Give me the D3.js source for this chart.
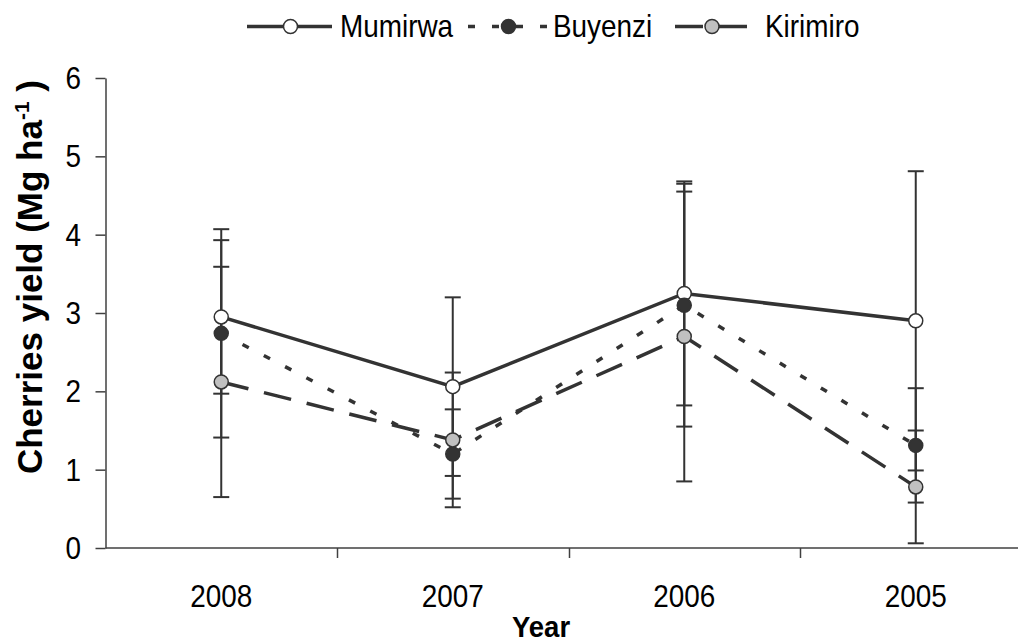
<!DOCTYPE html>
<html>
<head>
<meta charset="utf-8">
<script src="https://cdn.jsdelivr.net/npm/d3@7"></script>
<style>
  body { margin: 0; background: #fff; }
  text { font-family: "Liberation Sans", Arial, sans-serif; fill: #000; }
</style>
</head>
<body>
<script>
// data (mean and error-bar half width, Mg ha-1)
const years = ['2008', '2007', '2006', '2005'];
const seriesNames = ['Mumirwa', 'Buyenzi', 'Kirimiro'];
const mumirwa = [2.95, 2.06, 3.25, 2.90];
const mumirwaErr = [0.98, 1.14, 1.43, 1.91];
const buyenzi = [2.74, 1.20, 3.10, 1.31];
const buyenziErr = [1.33, 0.57, 1.55, 0.73];
const kirimiro = [2.12, 1.38, 2.70, 0.78];
const kirimiroErr = [1.47, 0.86, 1.85, 0.72];
const yTicks = [0, 1, 2, 3, 4, 5, 6];

const W = 1018, H = 644;
const ink = '#333';

const svg = d3.select(document.body).append('svg')
  .attr('width', W)
  .attr('height', H);

const x = d3.scaleBand()
  .domain(years)
  .range([105.5, 1031.5]);
const cx = d => x(d) + x.bandwidth() / 2;

const y = d3.scaleLinear()
  .domain([0, 6])
  .range([548, 78]);

const series = [
  {name: seriesNames[0], values: mumirwa, err: mumirwaErr, fill: '#fff', dash: null},
  {name: seriesNames[1], values: buyenzi, err: buyenziErr, fill: '#333', dash: '7,17'},
  {name: seriesNames[2], values: kirimiro, err: kirimiroErr, fill: '#c0c0c0', dash: '28,16'}
];

// axes
const gy = svg.append('g')
  .attr('transform', 'translate(105.5,0)')
  .call(d3.axisLeft(y).tickValues(yTicks).tickSize(10).tickSizeOuter(0).tickFormat(''));
gy.selectAll('path, line').attr('stroke', '#404040').attr('stroke-width', 1.5);

svg.append('line')
  .attr('x1', 105.5).attr('x2', W)
  .attr('y1', y(0)).attr('y2', y(0))
  .attr('stroke', '#404040').attr('stroke-width', 1.5);

svg.selectAll('.xtick')
  .data(years.slice(1))
  .enter().append('line')
  .attr('class', 'xtick')
  .attr('x1', d => Math.round(x(d)) + 0.5).attr('x2', d => Math.round(x(d)) + 0.5)
  .attr('y1', y(0)).attr('y2', y(0) + 10)
  .attr('stroke', '#404040').attr('stroke-width', 1.5);

// tick labels (the original font is a little narrow, hence the x scale)
svg.selectAll('.ylab')
  .data(yTicks)
  .enter().append('text')
  .attr('class', 'ylab')
  .attr('transform', d => `translate(81,${y(d) + 11}) scale(0.9,1)`)
  .attr('text-anchor', 'end')
  .style('font-size', '31px')
  .text(d => d);

svg.selectAll('.xlab')
  .data(years)
  .enter().append('text')
  .attr('class', 'xlab')
  .attr('transform', d => `translate(${cx(d)},607) scale(0.9,1)`)
  .attr('text-anchor', 'middle')
  .style('font-size', '31px')
  .text(d => d);

svg.append('text')
  .attr('transform', 'translate(541,637) scale(0.95,1)')
  .attr('text-anchor', 'middle')
  .style('font-size', '29px')
  .style('font-weight', 'bold')
  .text('Year');

const yt = svg.append('text')
  .attr('transform', 'translate(42,277) rotate(-90)')
  .attr('text-anchor', 'middle')
  .style('font-size', '35px')
  .style('font-weight', 'bold');
yt.append('tspan').text('Cherries yield (Mg ha');
yt.append('tspan').attr('dy', -13).style('font-size', '21px').text('-1');
yt.append('tspan').attr('dy', 13).text(' )');

// error bars
series.forEach(s => {
  const g = svg.append('g')
    .attr('stroke', ink)
    .attr('stroke-width', 2);
  years.forEach((yr, i) => {
    const lo = s.values[i] - s.err[i], hi = s.values[i] + s.err[i];
    g.append('line')
      .attr('x1', cx(yr)).attr('x2', cx(yr))
      .attr('y1', y(lo)).attr('y2', y(hi));
    [lo, hi].forEach(v => {
      g.append('line')
        .attr('x1', cx(yr) - 8).attr('x2', cx(yr) + 8)
        .attr('y1', y(v)).attr('y2', y(v));
    });
  });
});

// lines
const line = d3.line()
  .x((d, i) => cx(years[i]))
  .y(d => y(d));

series.forEach(s => {
  svg.append('path')
    .datum(s.values)
    .attr('fill', 'none')
    .attr('stroke', ink)
    .attr('stroke-width', 3.5)
    .attr('stroke-dasharray', s.dash)
    .attr('d', line);
});

// markers
series.forEach(s => {
  svg.selectAll(null)
    .data(s.values)
    .enter().append('circle')
    .attr('cx', (d, i) => cx(years[i]))
    .attr('cy', d => y(d))
    .attr('r', 7)
    .attr('fill', s.fill)
    .attr('stroke', ink)
    .attr('stroke-width', 1.5);
});

// legend
const legendX = [247, 468, 675];
const legendLen = [85, 79, 72];
const legendText = [340, 553, 765];
const ly = 26.5;
series.forEach((s, i) => {
  const g = svg.append('g');
  g.append('line')
    .attr('x1', legendX[i]).attr('x2', legendX[i] + legendLen[i])
    .attr('y1', ly).attr('y2', ly)
    .attr('stroke', ink)
    .attr('stroke-width', 3.5)
    .attr('stroke-dasharray', s.dash);
  g.append('circle')
    .attr('cx', legendX[i] + legendLen[i] / 2 + 1)
    .attr('cy', ly)
    .attr('r', 7)
    .attr('fill', s.fill)
    .attr('stroke', ink)
    .attr('stroke-width', 1.5);
  g.append('text')
    .attr('transform', `translate(${legendText[i]},37) scale(0.9,1)`)
    .style('font-size', '31px')
    .text(s.name);
});
</script>
</body>
</html>
